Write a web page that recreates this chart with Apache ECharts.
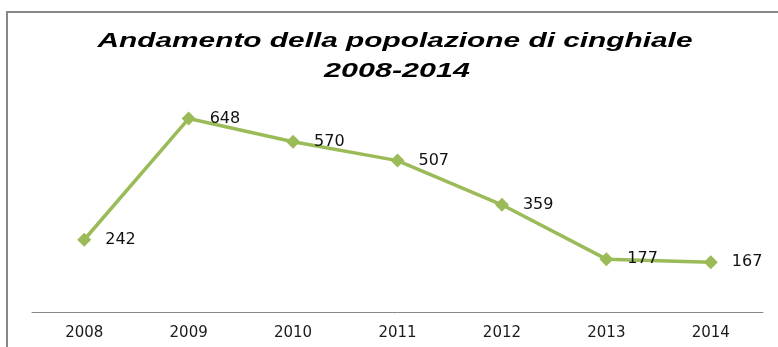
<!DOCTYPE html>
<html><head><meta charset="utf-8">
<script src="https://cdn.jsdelivr.net/npm/echarts@6/dist/echarts.min.js"></script>
<style>html,body{margin:0;padding:0;background:#fff}#c{width:778px;height:347px}</style>
</head><body><div id="c"></div>
<script>
const years = ['2008','2009','2010','2011','2012','2013','2014'];
const values = [242, 648, 570, 507, 359, 177, 167];
const titleLines = ['Andamento della popolazione di cinghiale', '2008-2014'];

const titleFont = 'italic bold 21px "Liberation Sans"';
const mctx = document.createElement('canvas').getContext('2d');
mctx.font = titleFont;
const w1 = mctx.measureText(titleLines[0]).width;
const w2 = mctx.measureText(titleLines[1]).width;

const chart = echarts.init(document.getElementById('c'));
chart.setOption({
  animation: false,
  backgroundColor: '#fff',
  graphic: [{
    type: 'rect', shape: {x: 7, y: 12, width: 800, height: 360},
    style: {fill: 'none', stroke: '#888888', lineWidth: 2}, silent: true
  }, {
    type: 'text', x: 395, y: 41, scaleX: 595 / w1,
    style: {text: titleLines[0], font: titleFont, fill: '#000', align: 'center', verticalAlign: 'middle'}
  }, {
    type: 'text', x: 397, y: 71, scaleX: 146 / w2,
    style: {text: titleLines[1], font: titleFont, fill: '#000', align: 'center', verticalAlign: 'middle'}
  }],
  grid: {left: 32, right: 15, top: 103, bottom: 35, containLabel: false},
  xAxis: {
    type: 'category', data: years, boundaryGap: true,
    axisLine: {lineStyle: {color: '#888888', width: 1}},
    axisTick: {show: false},
    axisLabel: {color: '#1a1a1a', fontFamily: 'DejaVu Sans', fontSize: 15, margin: 14}
  },
  yAxis: {
    type: 'value', min: 0, max: 700, show: false,
    splitLine: {show: false}
  },
  series: [{
    type: 'line', data: values,
    symbol: 'diamond', symbolSize: 14,
    lineStyle: {color: '#9BBB59', width: 3.5},
    itemStyle: {color: '#9BBB59'},
    label: {show: true, position: 'right', distance: 14, color: '#111', fontFamily: 'DejaVu Sans', fontSize: 16}
  }]
});
</script></body></html>
